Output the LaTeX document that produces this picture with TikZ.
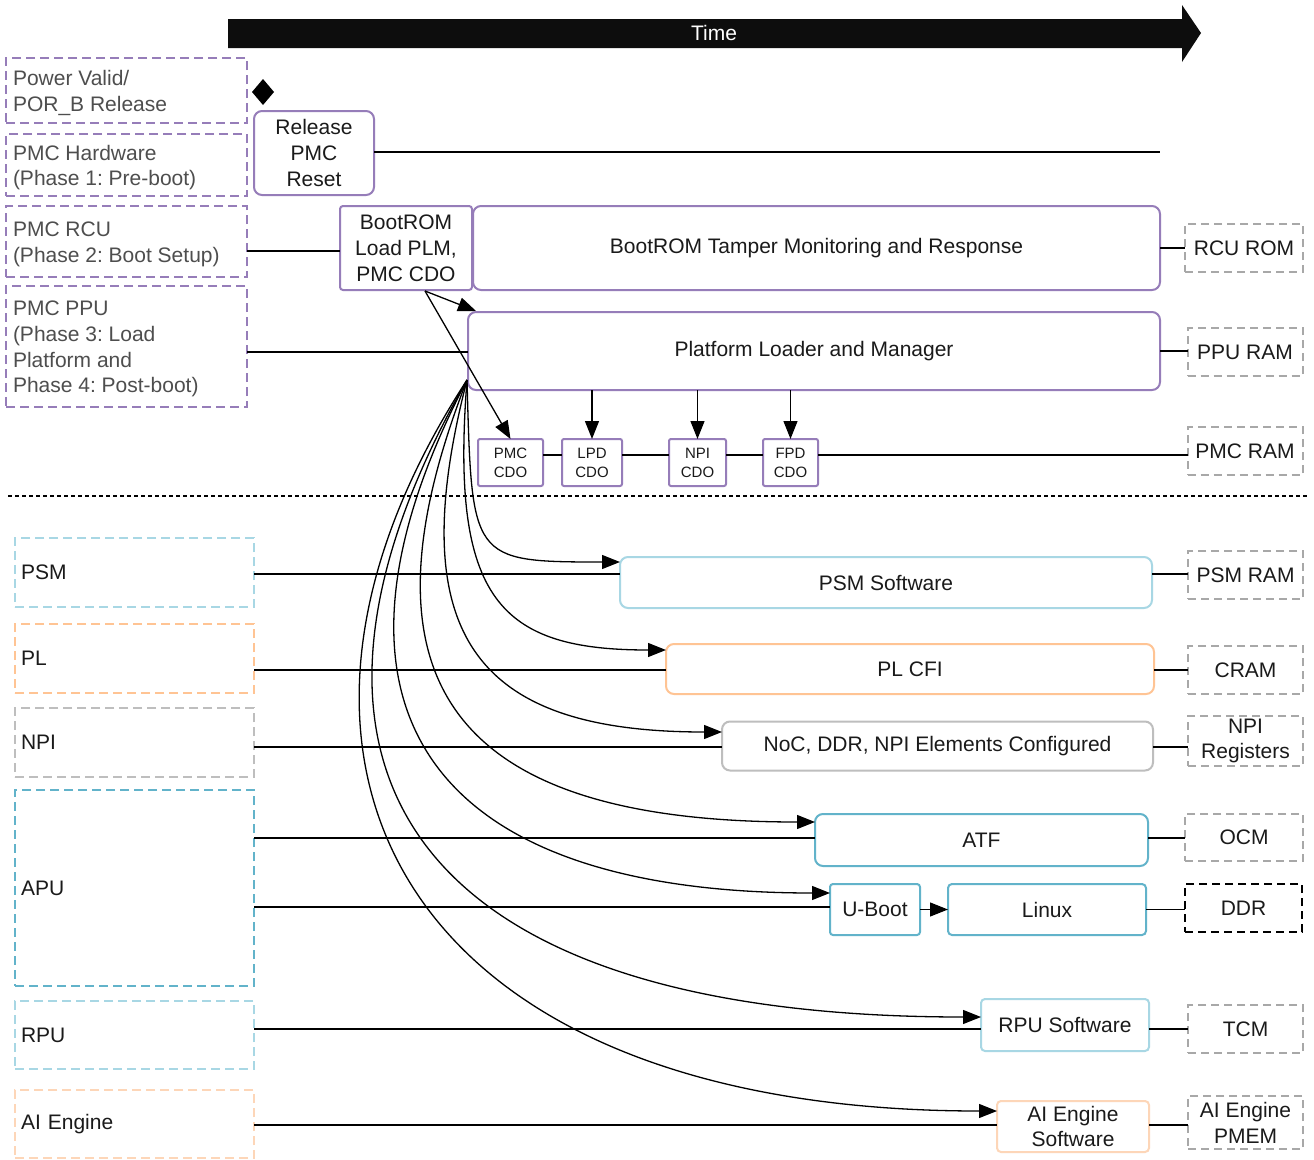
\documentclass[tikz,border=0pt]{standalone}
\usepackage{fontspec}
\setmainfont{Liberation Sans}
\usetikzlibrary{arrows.meta}
\frenchspacing
\definecolor{purp}{RGB}{150,125,185}
\definecolor{lblue}{RGB}{168,215,228}
\definecolor{tealb}{RGB}{98,179,202}
\definecolor{orng}{RGB}{255,196,148}
\definecolor{lorng}{RGB}{253,214,184}
\definecolor{gry}{RGB}{190,190,190}
\definecolor{mgry}{RGB}{168,168,168}
\definecolor{txtg}{RGB}{78,78,78}
\definecolor{tblack}{RGB}{26,26,26}
\begin{document}
\begin{tikzpicture}[x=1pt,y=-1pt,
  base/.style={inner sep=0pt, outer sep=0pt, font=\fontsize{21}{25.8}\selectfont, align=center, text=tblack},
  phase/.style={base, draw=purp, line width=2pt, dash pattern=on 9pt off 5pt, minimum width=241pt},
  ptext/.style={base, align=left, text=txtg, anchor=west, xshift=7pt, yshift=-2.5pt},
  lane/.style={base, draw=#1, line width=2pt, dash pattern=on 9pt off 5pt, align=left, inner xsep=6pt, text width=227pt},
  rbox/.style={base, draw=#1, line width=2pt, rounded corners=8pt, fill=white},
  cdo/.style={base, draw=purp, line width=2pt, rounded corners=2pt, font=\fontsize{15}{19}\selectfont, minimum height=47pt},
  mem/.style={base, draw=mgry, line width=2pt, dash pattern=on 8pt off 5pt, minimum width=115pt},
  con/.style={line width=1.3pt, black},
  arr/.style={line width=1.3pt, black, -{Triangle[length=18pt,width=14pt]}}
]
\useasboundingbox (0,0) rectangle (1314,1159);
\fill[white] (0,0) rectangle (1314,1159);

% Time arrow
\fill[black!95] (228,19) -- (1182,19) -- (1182,5) -- (1201,33) -- (1182,62) -- (1182,48) -- (228,48) -- cycle;
\node[base, text=white] (time) at (714,33) {Time};

% phase boxes
\node[phase, minimum height=65pt, label={[ptext]west:Power Valid/\\POR\_B Release}] (b1) at (126.5,90.5) {};
\node[phase, minimum height=62pt, label={[ptext]west:PMC Hardware\\(Phase 1: Pre-boot)}] (b2) at (126.5,165) {};
\node[phase, minimum height=71pt, label={[ptext]west:PMC RCU\\(Phase 2: Boot Setup)}] (b3) at (126.5,241.5) {};
\node[phase, minimum height=121pt, label={[ptext]west:PMC PPU\\(Phase 3: Load\\Platform and\\Phase 4: Post-boot)}] (b4) at (126.5,346.5) {};

% diamond
\fill[black] (263,79) -- (274,92) -- (263,105) -- (252,92) -- cycle;

% PMC blocks
\node[rbox=purp, minimum width=120pt, minimum height=84pt] (rel) at (314,153) {Release\\PMC\\Reset};
\coordinate (relend) at (1160,152);
\draw[con] (rel.east |- relend) -- (relend);

\node[rbox=purp, rounded corners=3pt, minimum width=132pt, minimum height=84pt] (boot) at (406,248) {BootROM\\Load PLM,\\PMC CDO};
\node[rbox=purp, minimum width=687pt, minimum height=84pt] (tamper) at (816.5,248) {BootROM Tamper Monitoring and Response};
\node[mem, minimum width=118pt, minimum height=48pt] (rcurom) at (1244,248) {RCU ROM};
\node[rbox=purp, minimum width=692pt, minimum height=78pt] (plm) at (814,351) {Platform Loader and Manager};
\node[mem, minimum height=48pt] (ppuram) at (1245,352) {PPU RAM};
\node[mem, minimum height=48pt] (pmcram) at (1245,451) {PMC RAM};

\node[cdo, minimum width=65pt] (pmccdo) at (510.5,462.5) {PMC\\CDO};
\node[cdo, minimum width=60pt] (lpdcdo) at (592,462.5) {LPD\\CDO};
\node[cdo, minimum width=57pt] (npicdo) at (697.5,462.5) {NPI\\CDO};
\node[cdo, minimum width=55pt] (fpdcdo) at (790.5,462.5) {FPD\\CDO};

\coordinate (y3) at (0,251);
\coordinate (y4) at (0,352);
\coordinate (ycdo) at (0,455);
\draw[con] (b3.east |- y3) -- (boot.west |- y3);
\draw[con] (b4.east |- y4) -- (plm.west |- y4);
\draw[con] (tamper.east) -- (tamper.east -| rcurom.west);
\draw[con] (plm.east) -- (plm.east -| ppuram.west);
\draw[con] (pmccdo.east |- ycdo) -- (lpdcdo.west |- ycdo);
\draw[con] (lpdcdo.east |- ycdo) -- (npicdo.west |- ycdo);
\draw[con] (npicdo.east |- ycdo) -- (fpdcdo.west |- ycdo);
\draw[con] (fpdcdo.east |- ycdo) -- (pmcram.west |- ycdo);

\coordinate (bsrc) at (425,291);
\coordinate (plmtip) at (476,311);
\draw[arr] (bsrc) -- (plmtip);
\draw[arr] (bsrc) -- (pmccdo.north);
\draw[arr] (plm.south -| lpdcdo.north) -- (lpdcdo.north);
\draw[arr] (plm.south -| npicdo.north) -- (npicdo.north);
\draw[arr] (plm.south -| fpdcdo.north) -- (fpdcdo.north);

% separator
\draw[line width=1.2pt, dash pattern=on 4pt off 3pt] (8,496) -- (1308,496);

% lower lanes
\node[lane=lblue, minimum height=69pt] (lpsm) at (134.5,572.5) {PSM};
\node[lane=orng, minimum height=69pt] (lpl) at (134.5,658.5) {PL};
\node[lane=gry, minimum height=69pt] (lnpi) at (134.5,742.5) {NPI};
\node[lane=tealb, minimum height=196pt] (lapu) at (134.5,888) {APU};
\node[lane=lblue, minimum height=68pt] (lrpu) at (134.5,1035) {RPU};
\node[lane=lorng, minimum height=68pt] (lai) at (134.5,1124) {AI Engine};

\node[rbox=lblue, minimum width=532pt, minimum height=51pt] (psmsw) at (886,582.5) {PSM Software};
\node[mem, minimum height=48pt] (psmram) at (1245.5,575) {PSM RAM};
\node[rbox=orng, minimum width=488pt, minimum height=50pt] (plcfi) at (910,669) {PL CFI};
\node[mem, minimum height=48pt] (cram) at (1245.5,670) {CRAM};
\node[rbox=gry, minimum width=431pt, minimum height=49pt] (noc) at (937.5,746) {NoC, DDR, NPI Elements Configured};
\node[mem, minimum height=50pt] (npireg) at (1245.5,741) {NPI\\Registers};
\node[rbox=tealb, minimum width=333pt, minimum height=52pt] (atf) at (981.5,840) {ATF};
\node[mem, minimum width=118pt, minimum height=47pt] (ocm) at (1244,837.5) {OCM};
\node[rbox=tealb, rounded corners=3pt, minimum width=90pt, minimum height=51pt] (uboot) at (875,909.5) {U-Boot};
\node[rbox=tealb, rounded corners=4pt, minimum width=198pt, minimum height=51pt] (linux) at (1047,909.5) {Linux};
\node[mem, draw=black, line width=2.4pt, minimum width=117pt, minimum height=48pt] (ddr) at (1243.5,908) {DDR};
\node[rbox=lblue, rounded corners=4pt, minimum width=168pt, minimum height=52pt] (rpusw) at (1065,1025) {RPU Software};
\node[mem, minimum height=48pt] (tcm) at (1245.5,1029) {TCM};
\node[rbox=lorng, rounded corners=4pt, minimum width=152pt, minimum height=51pt] (aisw) at (1073,1126.5) {AI Engine\\Software};
\node[mem, minimum height=53pt] (pmem) at (1245.5,1122.5) {AI Engine\\PMEM};

% lane lines
\coordinate (ypsm) at (0,574);
\coordinate (ypl) at (0,670);
\coordinate (ynpi) at (0,747);
\coordinate (yatf) at (0,838);
\coordinate (yub) at (0,907);
\coordinate (yrpu) at (0,1029);
\coordinate (yai) at (0,1125);
\draw[con] (lpsm.east |- ypsm) -- (psmsw.west |- ypsm);
\draw[con] (lpl.east |- ypl) -- (plcfi.west |- ypl);
\draw[con] (lnpi.east |- ynpi) -- (noc.west |- ynpi);
\draw[con] (lapu.east |- yatf) -- (atf.west |- yatf);
\draw[con] (lapu.east |- yub) -- (uboot.west |- yub);
\draw[con] (lrpu.east |- yrpu) -- (rpusw.west |- yrpu);
\draw[con] (lai.east |- yai) -- (aisw.west |- yai);

% to memories
\draw[con] (psmsw.east |- ypsm) -- (psmram.west |- ypsm);
\draw[con] (plcfi.east |- ypl) -- (cram.west |- ypl);
\draw[con] (noc.east |- ynpi) -- (npireg.west |- ynpi);
\draw[con] (atf.east |- yatf) -- (ocm.west |- yatf);
\draw[con] (linux.east) -- (linux.east -| ddr.west);
\draw[con] (rpusw.east |- yrpu) -- (tcm.west |- yrpu);
\draw[con] (aisw.east |- yai) -- (pmem.west |- yai);
\draw[arr] (uboot.east) -- (linux.west);

% fan of curves
\coordinate (fan) at (467,380);
\coordinate (tpsm) at (0,562);
\coordinate (tpl) at (0,650);
\coordinate (tnoc) at (0,732);
\coordinate (tatf) at (0,822);
\coordinate (tub) at (0,893);
\coordinate (trpu) at (0,1017);
\coordinate (tai) at (0,1111);
\draw[arr] (fan) .. controls (472,560) and (470,562) .. (psmsw.west |- tpsm);
\draw[arr] (fan) .. controls (450,600) and (500,650) .. (plcfi.west |- tpl);
\draw[arr] (fan) .. controls (400,640) and (480,732) .. (noc.west |- tnoc);
\draw[arr] (fan) .. controls (350,680) and (450,822) .. (atf.west |- tatf);
\draw[arr] (fan) .. controls (300,700) and (420,893) .. (uboot.west |- tub);
\draw[arr] (fan) .. controls (250,760) and (400,1017) .. (rpusw.west |- trpu);
\draw[arr] (fan) .. controls (220,760) and (400,1111) .. (aisw.west |- tai);
\end{tikzpicture}
\end{document}
